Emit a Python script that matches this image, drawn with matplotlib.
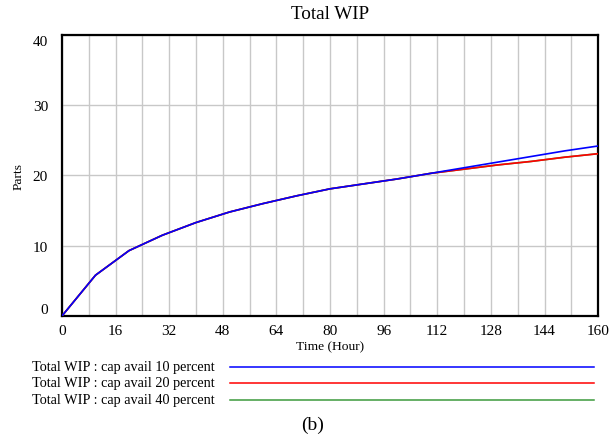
import numpy as np
import matplotlib
matplotlib.use("Agg")
import matplotlib.pyplot as plt
from matplotlib.lines import Line2D

# datos (cada 10 horas)
time_h = [0, 10, 20, 30, 40, 50, 60, 70, 80, 90, 100, 110, 120, 130, 140, 150, 160]
wip_cap10 = [0, 5.8, 9.3, 11.5, 13.3, 14.8, 16.0, 17.1, 18.1, 18.8, 19.5, 20.3,
             21.1, 21.9, 22.7, 23.5, 24.2]
wip_cap20 = [0, 5.8, 9.3, 11.5, 13.3, 14.8, 16.0, 17.1, 18.1, 18.8, 19.5, 20.3,
             20.9, 21.5, 22.0, 22.6, 23.1]
wip_cap40 = [0, 5.8, 9.3, 11.5, 13.3, 14.8, 16.0, 17.1, 18.1, 18.8, 19.5, 20.3,
             20.9, 21.5, 22.0, 22.6, 23.1]

series_names = ["Total WIP : cap avail 10 percent",
                "Total WIP : cap avail 20 percent",
                "Total WIP : cap avail 40 percent"]
series_values = [wip_cap10, wip_cap20, wip_cap40]
series_colors = ["#0000ff", "#ff0000", "#3c9a3c"]

x_ticks = np.arange(0, 161, 16)
y_ticks = [0, 10, 20, 30, 40]

plt.rcParams['font.family'] = ['Liberation Serif', 'DejaVu Serif']

fig = plt.figure(figsize=(6.16, 4.39), dpi=100)
ax = fig.add_axes([0.1006, 0.278, 0.8704, 0.640])

# verde debajo, luego rojo, azul encima
for idx in [2, 1, 0]:
    ax.plot(time_h, series_values[idx], color=series_colors[idx], lw=1.2, zorder=3)

ax.set_xlim(0, 160)
ax.set_ylim(0, 40)
ax.set_xticks(x_ticks)
ax.set_yticks(y_ticks)
ax.set_xticks(np.arange(0, 161, 8), minor=True)
ax.grid(True, which='both', axis='x', color='#c8c8c8', lw=1)
ax.grid(True, which='major', axis='y', color='#c8c8c8', lw=1)
ax.tick_params(which='both', length=0, labelsize=11, pad=6)
ax.tick_params(axis='y', pad=10)
for sp in ax.spines.values():
    sp.set_linewidth(1.6)
ylabels = ax.get_yticklabels()
ylabels[0].set_va('bottom')
ylabels[-1].set_va('top')

ax.set_title("Total WIP", fontsize=13.8, pad=12)
ax.set_xlabel("Time (Hour)", fontsize=9.7, labelpad=2)
ax.set_ylabel("Parts", fontsize=9.7, labelpad=6)

# leyenda estilo Vensim debajo del grafico
legend_y = [368, 384, 401]
for name, color, ypix in zip(series_names, series_colors, legend_y):
    yf = 1 - ypix / 439
    fig.text(215 / 616, yf, name, ha='right', va='center', fontsize=10.3)
    fig.add_artist(Line2D([230 / 616, 594 / 616], [yf, yf], color=color, lw=1.1))

fig.text(313 / 616, 1 - 425 / 439, "(b)", ha='center', va='center', fontsize=14)

fig.savefig("out.png", dpi=100)
